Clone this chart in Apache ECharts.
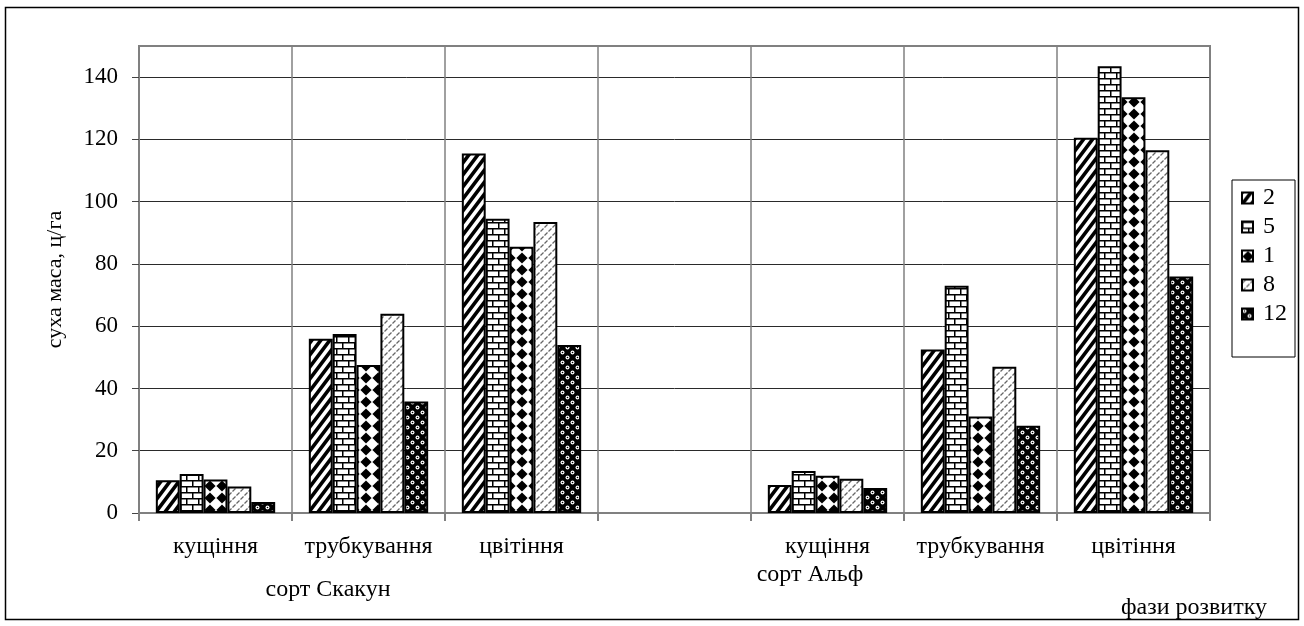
<!DOCTYPE html>
<html>
<head>
<meta charset="utf-8">
<script src="https://cdn.jsdelivr.net/npm/echarts@6/dist/echarts.min.js"></script>
<style>
html,body{margin:0;padding:0;background:#fff;}
#chart{width:1304px;height:626px;}
</style>
</head>
<body>
<div id="chart"></div>
<script>
// ---- data ----
const categories = ['кущіння', 'трубкування', 'цвітіння', '', 'кущіння', 'трубкування', 'цвітіння'];
const seriesNames = ['2', '5', '1', '8', '12'];
const s2  = [10.5, 56,   115.5, null, 9,    52.5, 120.5];
const s5  = [12.5, 57.5, 94.5,  null, 13.5, 73,   143.5];
const s1  = [10.8, 47.5, 85.5,  null, 12,   31,   133.5];
const s8  = [8.5,  64,   93.5,  null, 11,   47,   116.5];
const s12 = [3.5,  35.8, 54,    null, 8,    28,   76];
const yTicks = [0, 20, 40, 60, 80, 100, 120, 140];
const groupLabels = ['сорт Скакун', 'сорт Альф'];
const xTitle = 'фази розвитку';
const yTitle = 'суха маса, ц/га';

// ---- patterns ----
function tile(w, h, draw) {
  const c = document.createElement('canvas');
  c.width = w; c.height = h;
  const g = c.getContext('2d');
  draw(g, w, h);
  return c;
}
const pat2 = tile(9, 12, (g, w, h) => {
  g.fillStyle = '#fff'; g.fillRect(0, 0, w, h);
  g.strokeStyle = '#000'; g.lineWidth = 3.6;
  g.beginPath(); g.moveTo(-1, h + 12 / 9); g.lineTo(w + 1, -12 / 9); g.stroke();
  g.beginPath(); g.moveTo(-w - 1, h + 12 / 9); g.lineTo(1, -12 / 9); g.stroke();
  g.beginPath(); g.moveTo(w - 1, h + 12 / 9); g.lineTo(2 * w + 1, -12 / 9); g.stroke();
});
const pat5 = tile(12, 12, (g, w, h) => {
  g.fillStyle = '#fff'; g.fillRect(0, 0, w, h);
  g.fillStyle = '#000';
  g.fillRect(0, 0, w, 1.5);
  g.fillRect(0, 6, w, 1.5);
  g.fillRect(0, 0, 1.5, 6);
  g.fillRect(6, 6, 1.5, 6);
});
const pat1 = tile(12, 12, (g, w, h) => {
  g.fillStyle = '#fff'; g.fillRect(0, 0, w, h);
  g.fillStyle = '#000';
  g.beginPath(); g.moveTo(6, 0.4); g.lineTo(11.6, 6); g.lineTo(6, 11.6); g.lineTo(0.4, 6); g.closePath(); g.fill();
});
const pat8 = tile(8, 8, (g, w, h) => {
  g.fillStyle = '#fff'; g.fillRect(0, 0, w, h);
  g.strokeStyle = '#666'; g.lineWidth = 1.2;
  g.beginPath(); g.moveTo(0.5, 3.5); g.lineTo(3.5, 0.5); g.stroke();
  g.beginPath(); g.moveTo(4.5, 7.5); g.lineTo(7.5, 4.5); g.stroke();
});
const pat12 = tile(10, 10, (g, w, h) => {
  g.fillStyle = '#000'; g.fillRect(0, 0, w, h);
  g.fillStyle = '#fff';
  g.beginPath(); g.arc(2.5, 2.5, 2.0, 0, Math.PI * 2); g.fill();
  g.beginPath(); g.arc(7.5, 7.5, 2.0, 0, Math.PI * 2); g.fill();
  g.fillStyle = '#000';
  g.beginPath(); g.arc(2.5, 2.5, 0.8, 0, Math.PI * 2); g.fill();
  g.beginPath(); g.arc(7.5, 7.5, 0.8, 0, Math.PI * 2); g.fill();
});
const patterns = [pat2, pat5, pat1, pat8, pat12];
const values = [s2, s5, s1, s8, s12];

const FONT = 'Liberation Serif';
const chart = echarts.init(document.getElementById('chart'), null, {renderer: 'canvas'});

const splitColors = yTicks.map(() => '#2a2a2a').concat(['#808080']);

chart.setOption({
  animation: false,
  backgroundColor: '#fff',
  textStyle: {fontFamily: FONT, color: '#000'},
  grid: {left: 139, top: 46, right: 94, bottom: 113, show: true, borderColor: '#808080', borderWidth: 2, backgroundColor: '#fff', containLabel: false},
  legend: {
    orient: 'vertical', left: 1232, top: 180,
    data: seriesNames,
    icon: 'rect', itemWidth: 11, itemHeight: 11, itemGap: 5,
    padding: [6, 8, 31, 9],
    borderColor: '#000', borderWidth: 1,
    textStyle: {fontFamily: FONT, fontSize: 24, color: '#000', padding: [0, 0, 0, 5]}
  },
  xAxis: {
    type: 'category', data: categories, boundaryGap: true,
    axisLine: {lineStyle: {color: '#808080', width: 2}},
    axisTick: {show: true, interval: 0, length: 8, lineStyle: {color: '#808080', width: 2}},
    axisLabel: {interval: 0, margin: 22, fontFamily: FONT, fontSize: 24, color: '#000'},
    splitLine: {show: true, interval: 0, lineStyle: {color: '#808080', width: 1.5}}
  },
  yAxis: {
    type: 'value', min: 0, max: 150, interval: 20,
    name: yTitle, nameLocation: 'middle', nameRotate: 90, nameGap: 73,
    nameTextStyle: {fontFamily: FONT, fontSize: 22, color: '#000'},
    axisLine: {show: true, lineStyle: {color: '#808080', width: 2}},
    axisTick: {show: true, length: 7, lineStyle: {color: '#444', width: 1}},
    axisLabel: {margin: 21, fontFamily: FONT, fontSize: 23, color: '#000', showMaxLabel: false},
    splitLine: {show: true, lineStyle: {color: splitColors, width: 1}}
  },
  series: seriesNames.map((n, i) => ({
    name: n, type: 'bar', data: values[i],
    barGap: '0%', barCategoryGap: '22%',
    itemStyle: {color: {image: patterns[i], repeat: 'repeat'}, borderColor: '#000', borderWidth: 2},
    emphasis: {disabled: true}
  })),
  graphic: [
    {type: 'rect', shape: {x: 5.5, y: 7.5, width: 1293, height: 612}, style: {fill: 'none', stroke: '#000', lineWidth: 1.5}, silent: true, z: 100},
    {type: 'text', x: 328, y: 590, style: {text: groupLabels[0], font: '24px "Liberation Serif"', fill: '#000', textAlign: 'center', textVerticalAlign: 'middle'}},
    {type: 'text', x: 810, y: 575, style: {text: groupLabels[1], font: '24px "Liberation Serif"', fill: '#000', textAlign: 'center', textVerticalAlign: 'middle'}},
    {type: 'text', x: 1194, y: 608, style: {text: xTitle, font: '24px "Liberation Serif"', fill: '#000', textAlign: 'center', textVerticalAlign: 'middle'}}
  ]
});
</script>
</body>
</html>
